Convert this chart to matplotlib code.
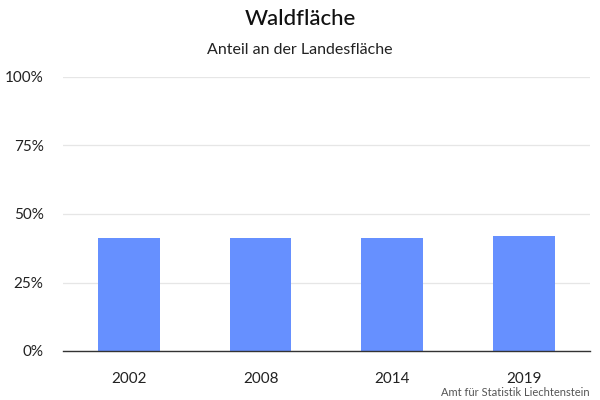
import matplotlib
matplotlib.use("Agg")
import matplotlib.pyplot as plt

# Daten
jahre = ["2002", "2008", "2014", "2019"]
anteil = [41.2, 41.2, 41.2, 42.0]
y_ticks = [0, 25, 50, 75, 100]
y_labels = ["0%", "25%", "50%", "75%", "100%"]

plt.rcParams['font.family'] = ['Lato', 'DejaVu Sans']

fig = plt.figure(figsize=(6, 4), dpi=100)
ax = fig.add_axes([0.105, 0.1225, 0.878, 0.685])

ax.bar(range(len(jahre)), anteil, width=0.47, color="#6690ff", zorder=2)

ax.set_xlim(-0.5, len(jahre) - 0.5)
ax.set_ylim(0, 100)
ax.set_yticks(y_ticks)
ax.set_yticklabels(y_labels)
ax.set_xticks(range(len(jahre)))
ax.set_xticklabels(jahre)
ax.tick_params(axis="both", length=0, labelsize=11, colors="#222222")
ax.tick_params(axis="x", pad=15)
ax.tick_params(axis="y", pad=14)

ax.grid(axis="y", color="#e6e6e6", linewidth=0.9, zorder=0)
for s in ["top", "right", "left"]:
    ax.spines[s].set_visible(False)
ax.spines["bottom"].set_color("#333333")
ax.spines["bottom"].set_linewidth(1.0)
ax.spines["bottom"].set_zorder(3)

fig.text(0.5, 0.952, "Waldfläche", ha="center", va="center",
         fontsize=16, fontweight="medium", color="#111111")
fig.text(0.5, 0.875, "Anteil an der Landesfläche", ha="center", va="center",
         fontsize=11.5, color="#222222")
fig.text(0.983, 0.02, "Amt für Statistik Liechtenstein", ha="right", va="center",
         fontsize=8, color="#555555")

fig.savefig("out.png", dpi=100)
